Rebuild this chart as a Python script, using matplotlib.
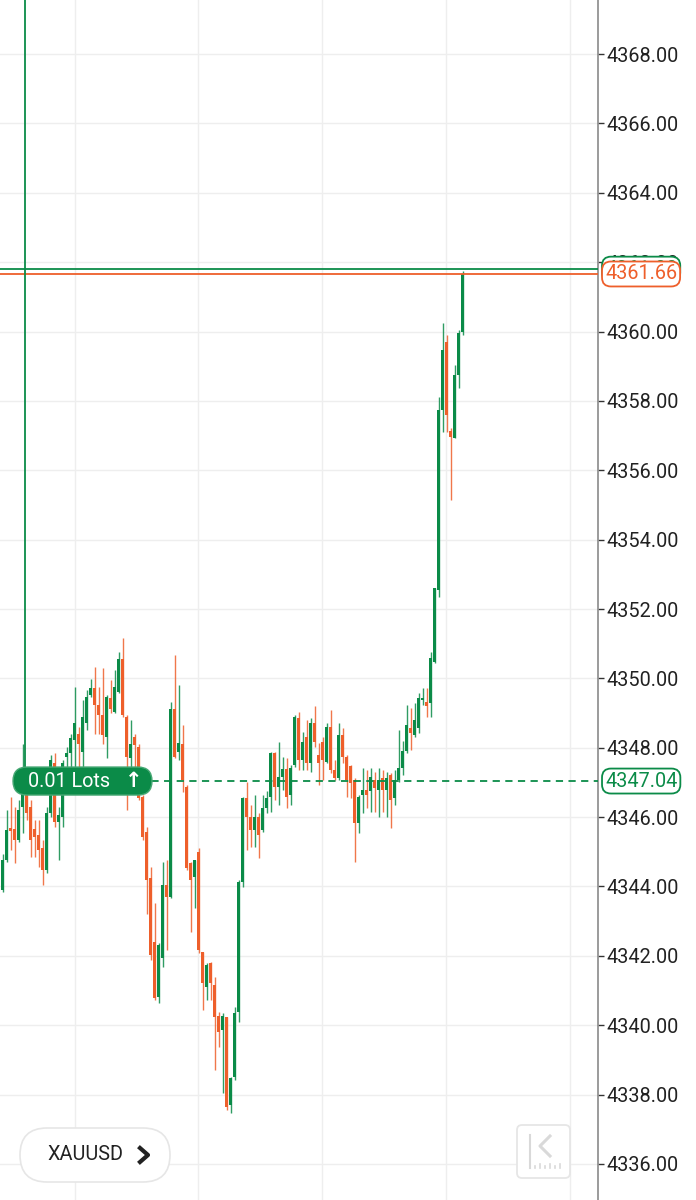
import numpy as np
import matplotlib.pyplot as plt
from matplotlib.patches import FancyBboxPatch
from matplotlib.lines import Line2D
from matplotlib.transforms import IdentityTransform

plt.rcParams['font.family'] = ['Roboto', 'DejaVu Sans']

# candle data (oldest first)
opens = [4343.90, 4344.76, 4345.70, 4345.67, 4345.34, 4346.30, 4346.64, 4346.30, 4345.67, 4345.48,
         4345.10, 4344.47, 4346.11, 4347.55, 4345.87, 4346.00, 4347.72, 4347.84, 4348.22, 4348.41,
         4347.88, 4348.70, 4349.52, 4349.71, 4349.23, 4348.94, 4348.32, 4349.42, 4349.04, 4349.61,
         4350.57, 4348.89, 4347.69, 4348.32, 4348.03, 4346.59, 4345.58, 4344.23, 4342.41, 4340.82,
         4341.93, 4344.04, 4343.70, 4349.13, 4347.88, 4348.11, 4346.88, 4344.68, 4344.28, 4345.00,
         4342.12, 4341.11, 4341.78, 4341.16, 4340.27, 4339.86, 4340.25, 4337.70, 4338.52, 4340.39,
         4344.14, 4346.54, 4346.01, 4345.63, 4346.01, 4345.63, 4346.25, 4346.59, 4347.84, 4346.88,
         4347.17, 4347.38, 4346.64, 4347.50, 4348.85, 4347.65, 4348.32, 4347.55, 4348.70, 4347.79,
         4348.18, 4347.60, 4348.61, 4347.36, 4347.12, 4348.37, 4347.74, 4347.46, 4347.07, 4345.82,
         4346.64, 4346.78, 4346.74, 4347.07, 4346.78, 4347.12, 4346.78, 4347.22, 4346.54, 4347.07,
         4347.41, 4347.90, 4348.56, 4348.37, 4348.56, 4349.38, 4349.33, 4349.28, 4350.48, 4352.55,
         4357.74, 4359.71, 4357.14, 4356.92, 4358.75, 4360.00]
highs = [4344.95, 4346.20, 4346.59, 4346.30, 4346.49, 4348.12, 4346.78, 4346.49, 4345.92, 4345.92,
         4345.34, 4346.30, 4347.79, 4347.84, 4346.30, 4347.64, 4348.03, 4348.41, 4349.76, 4348.60,
         4349.37, 4349.66, 4349.99, 4350.33, 4349.76, 4350.29, 4349.52, 4349.95, 4350.24, 4350.77,
         4351.15, 4348.94, 4348.80, 4348.41, 4348.12, 4346.64, 4345.72, 4344.57, 4343.51, 4342.36,
         4344.71, 4344.76, 4349.33, 4350.67, 4349.81, 4348.65, 4346.92, 4344.71, 4344.76, 4345.10,
         4342.12, 4341.78, 4341.83, 4341.40, 4340.39, 4340.34, 4340.25, 4338.52, 4340.53, 4344.18,
         4346.59, 4347.02, 4346.35, 4346.64, 4346.11, 4346.64, 4346.74, 4347.89, 4347.89, 4348.18,
         4347.74, 4347.70, 4347.50, 4348.95, 4349.04, 4348.46, 4348.80, 4348.85, 4349.19, 4348.13,
         4348.32, 4348.70, 4349.09, 4347.65, 4348.70, 4348.56, 4347.80, 4347.50, 4347.12, 4346.64,
         4347.41, 4347.36, 4347.41, 4347.31, 4347.41, 4347.36, 4347.31, 4347.26, 4347.36, 4348.51,
         4348.20, 4349.23, 4349.14, 4349.28, 4349.57, 4349.71, 4349.71, 4350.77, 4352.60, 4358.12,
         4360.24, 4359.90, 4357.21, 4359.04, 4360.04, 4361.75]
lows = [4343.85, 4344.71, 4345.05, 4344.67, 4345.29, 4345.53, 4345.92, 4344.86, 4344.86, 4344.57,
        4344.04, 4344.38, 4346.01, 4345.72, 4344.76, 4345.72, 4347.45, 4347.45, 4347.45, 4347.45,
        4347.45, 4348.51, 4349.47, 4348.41, 4348.41, 4348.12, 4347.69, 4348.99, 4348.99, 4349.57,
        4348.89, 4346.20, 4347.45, 4347.40, 4346.49, 4345.34, 4343.22, 4341.88, 4340.73, 4340.63,
        4341.69, 4342.17, 4343.66, 4347.69, 4347.64, 4346.73, 4344.47, 4342.70, 4343.37, 4342.07,
        4340.44, 4340.73, 4340.73, 4338.71, 4339.38, 4338.04, 4337.55, 4337.46, 4338.42, 4340.10,
        4343.99, 4345.05, 4345.15, 4345.15, 4344.81, 4345.58, 4346.11, 4346.16, 4346.50, 4346.35,
        4346.78, 4346.25, 4346.35, 4347.45, 4347.36, 4347.36, 4347.36, 4347.31, 4348.03, 4346.93,
        4347.07, 4347.55, 4347.26, 4347.07, 4347.07, 4347.55, 4346.59, 4346.54, 4344.72, 4345.53,
        4346.11, 4346.25, 4346.16, 4346.16, 4346.01, 4346.16, 4346.01, 4345.68, 4346.35, 4347.00,
        4347.20, 4347.85, 4347.94, 4348.32, 4348.42, 4349.23, 4348.90, 4348.90, 4350.43, 4352.36,
        4357.11, 4357.11, 4355.14, 4356.92, 4358.36, 4359.90]
closes = [4344.76, 4345.63, 4345.61, 4345.34, 4346.20, 4347.16, 4346.11, 4345.34, 4345.43, 4345.05,
          4344.47, 4346.11, 4347.64, 4345.87, 4346.06, 4347.55, 4347.84, 4348.27, 4348.70, 4348.12,
          4348.89, 4349.47, 4349.71, 4349.23, 4348.94, 4348.37, 4349.47, 4349.13, 4349.76, 4350.55,
          4348.94, 4347.74, 4348.12, 4348.08, 4346.54, 4345.43, 4344.18, 4342.02, 4340.77, 4342.31,
          4344.04, 4343.70, 4349.13, 4347.74, 4348.14, 4347.07, 4344.52, 4344.18, 4344.76, 4342.17,
          4341.21, 4341.73, 4341.21, 4340.25, 4339.81, 4340.27, 4337.65, 4338.47, 4340.36, 4344.14,
          4346.54, 4346.01, 4345.63, 4346.01, 4345.49, 4346.25, 4346.54, 4347.84, 4346.88, 4347.17,
          4347.38, 4346.59, 4347.41, 4348.90, 4347.65, 4348.18, 4347.55, 4348.70, 4348.18, 4347.55,
          4347.65, 4348.61, 4347.36, 4347.12, 4348.37, 4347.74, 4347.07, 4346.98, 4345.82, 4346.59,
          4346.78, 4346.64, 4347.17, 4346.83, 4347.07, 4346.78, 4347.12, 4346.50, 4347.07, 4347.41,
          4347.90, 4348.66, 4348.42, 4348.80, 4349.43, 4349.43, 4349.19, 4350.58, 4352.60, 4357.74,
          4359.47, 4357.59, 4356.97, 4358.75, 4359.95, 4361.66]

bid_price = 4361.66
ask_price = 4361.80
entry_price = 4347.04
entry_bar = 5.6
lot_text = '0.01 Lots'
symbol = 'XAUUSD'
yticks = np.arange(4336, 4371, 2)
vgrid_bars = [18.1, 48.9, 79.9, 110.8, 141.7]

green = '#0b8b48'
orange = '#ee5f2b'

W, H = 696, 1200
fig = plt.figure(figsize=(W / 100, H / 100), dpi=100)
ax = fig.add_axes([0, 0, 598 / W, 1])

o = np.array(opens)
c = np.array(closes)
idx = np.arange(len(o))
cols = [green if cc >= oo else orange for oo, cc in zip(o, c)]

ax.vlines(idx, lows, highs, colors=cols, lw=1, alpha=0.85, zorder=2)
ax.bar(idx, np.maximum(np.abs(c - o), 0.05), bottom=np.minimum(o, c), width=0.72,
       color=cols, zorder=3)

# grid
ax.set_yticks(yticks)
ax.set_yticklabels(['%.2f' % t for t in yticks])
ax.set_xticks(vgrid_bars)
ax.set_xticklabels([])
ax.tick_params(axis='x', length=0)
ax.grid(True, color='#eeeeee', lw=1)
ax.set_axisbelow(True)

xmin, xmax = -0.675, 148.825
ymin, ymax = 4334.96, 4369.56
ax.set_xlim(xmin, xmax)
ax.set_ylim(ymin, ymax)

for s in ['left', 'top', 'bottom']:
    ax.spines[s].set_visible(False)
ax.spines['right'].set_color('#8a8a8a')
ax.spines['right'].set_linewidth(1.2)
ax.yaxis.tick_right()
ax.tick_params(axis='y', length=4.5, width=1, color='#333333', labelsize=14.3,
               labelcolor='#222222', pad=1.5)

# price lines
ax.axhline(ask_price, color=green, lw=1.3, zorder=4)
ax.axhline(bid_price, color=orange, lw=1.3, zorder=4)
ax.plot([entry_bar, xmax], [entry_price, entry_price], color=green, lw=1.3,
        ls=(0, (4, 3)), zorder=4)
ax.plot([entry_bar, entry_bar], [entry_price, ymax], color=green, lw=1.3, zorder=4)

# price boxes on the axis
tx = 1.0 + 7 / 598
box = 'round,pad=0.15,rounding_size=0.45'
ax.text(tx, ask_price, '%.2f' % ask_price, transform=ax.get_yaxis_transform(), va='center',
        ha='left', fontsize=14.3, color=green, clip_on=False, zorder=6,
        bbox=dict(boxstyle=box, fc='white', ec=green, lw=1.3))
ax.text(tx, bid_price, '%.2f' % bid_price, transform=ax.get_yaxis_transform(), va='center',
        ha='left', fontsize=14.3, color=orange, clip_on=False, zorder=7,
        bbox=dict(boxstyle=box, fc='white', ec=orange, lw=1.3))
ax.text(tx, entry_price, '%.2f' % entry_price, transform=ax.get_yaxis_transform(), va='center',
        ha='left', fontsize=14.3, color=green, clip_on=False, zorder=7,
        bbox=dict(boxstyle=box, fc='white', ec=green, lw=1.3))

# position label
ypx = ax.transData.transform((0, entry_price))[1]
ident = IdentityTransform()
fig.add_artist(FancyBboxPatch((13, ypx - 14), 139, 28, boxstyle='round,pad=0,rounding_size=14',
                              transform=ident, fc=green, ec='#47a874', lw=1, zorder=5))
fig.text(28, ypx, lot_text, transform=ident, color='white', fontsize=14.3, va='center',
         ha='left', zorder=6)
fig.text(134, ypx, '\u2191', transform=ident, color='white', fontsize=15, va='center',
         ha='center', fontweight='bold', family='DejaVu Sans', zorder=6)

# symbol button
fig.add_artist(FancyBboxPatch((20, H - 1182), 150, 54, boxstyle='round,pad=0,rounding_size=27',
                              transform=ident, fc='white', ec='#e6e6e6', lw=1.2, zorder=5))
fig.text(47, H - 1155, symbol, transform=ident, color='#222222', fontsize=14.3, va='center',
         ha='left', zorder=6)
fig.add_artist(Line2D([140, 148, 140], [H - 1148, H - 1155, H - 1162], transform=ident,
                      color='#222222', lw=3, zorder=6))

# scroll-to-end icon
ic = '#d9d9d9'
fig.add_artist(FancyBboxPatch((517, H - 1178), 53, 53, boxstyle='round,pad=0,rounding_size=5',
                              transform=ident, fc='white', ec='#e6e6e6', lw=1.3, zorder=5))
fig.add_artist(Line2D([530, 530], [H - 1135, H - 1168], transform=ident, color=ic, lw=1.5, zorder=6))
fig.add_artist(Line2D([550, 540, 550], [H - 1136, H - 1146, H - 1156], transform=ident,
                      color=ic, lw=2.2, zorder=6))
for xt in [535, 540, 545, 550, 555, 560]:
    fig.add_artist(Line2D([xt, xt], [H - 1168, H - 1164 if xt % 10 == 0 else H - 1166],
                          transform=ident, color=ic, lw=1.2, zorder=6))

fig.savefig('out.png', dpi=100)
